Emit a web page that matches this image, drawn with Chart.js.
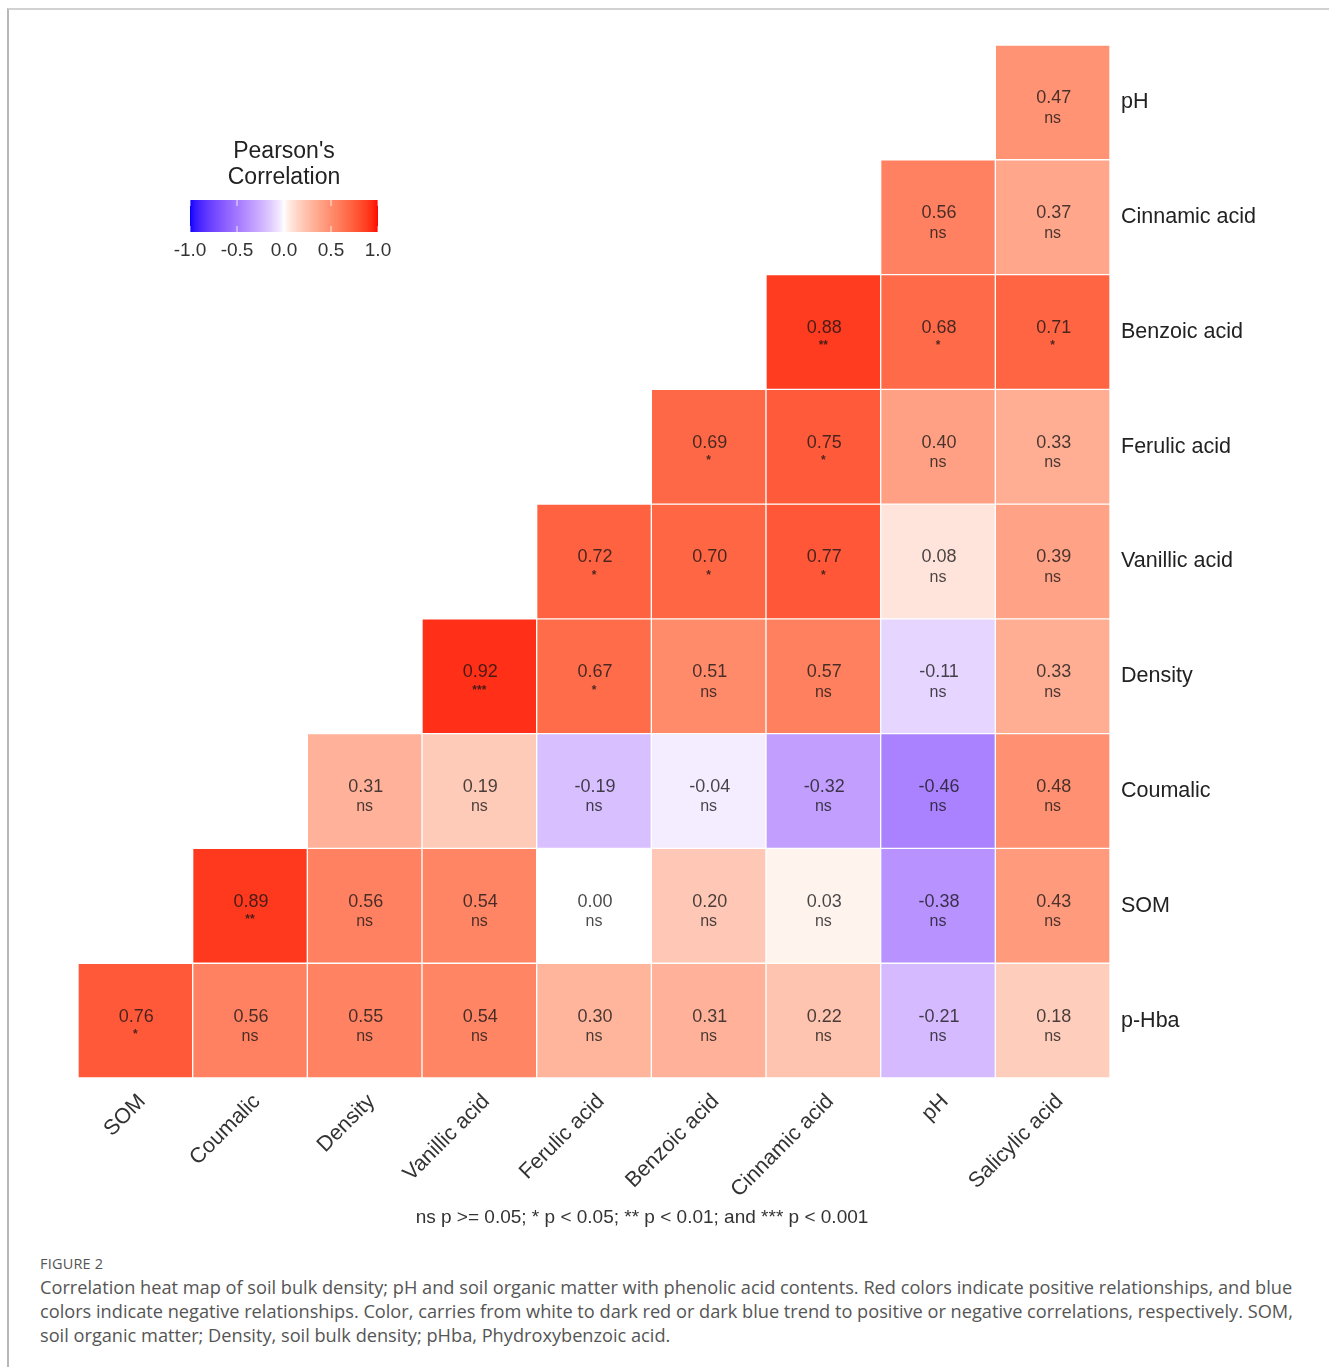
<!DOCTYPE html>
<html>
<head>
<meta charset="utf-8">
<script src="https://cdn.jsdelivr.net/npm/chart.js@4.4.0/dist/chart.umd.min.js"></script>
<style>
  html, body { margin: 0; padding: 0; background: #fff; }
  body { width: 1329px; height: 1367px; position: relative; overflow: hidden; }
  #frame { position: absolute; left: 7px; top: 8px; right: 0; bottom: 0;
           border-top: 2px solid #d2d2d2; border-left: 2px solid #b8b8b8; }
  #heat { position: absolute; left: 0; top: 0; }
  #figlabel { position: absolute; left: 40px; top: 1254px; font-family: "Open Sans", sans-serif;
              font-size: 14.5px; color: #555; letter-spacing: 0.2px; }
  #caption { position: absolute; left: 40px; top: 1275px; font-family: "Open Sans", sans-serif;
             font-size: 18.2px; line-height: 24px; color: #555; white-space: nowrap; }
</style>
</head>
<body>
<div id="frame"></div>
<canvas id="heat" width="1329" height="1240"></canvas>
<div id="figlabel">FIGURE 2</div>
<div id="caption">Correlation heat map of soil bulk density; pH and soil organic matter with phenolic acid contents. Red colors indicate positive relationships, and blue<br>colors indicate negative relationships. Color, carries from white to dark red or dark blue trend to positive or negative correlations, respectively. SOM,<br>soil organic matter; Density, soil bulk density; pHba, Phydroxybenzoic acid.</div>
<script>
// columns (bottom axis) and rows (right axis, top to bottom)
const xLabels = ['SOM', 'Coumalic', 'Density', 'Vanillic acid', 'Ferulic acid',
                 'Benzoic acid', 'Cinnamic acid', 'pH', 'Salicylic acid'];
const yLabels = ['pH', 'Cinnamic acid', 'Benzoic acid', 'Ferulic acid', 'Vanillic acid',
                 'Density', 'Coumalic', 'SOM', 'p-Hba'];

// Pearson r, one row per yLabel (null = upper triangle, not drawn)
const corrValues = [
  [null, null, null, null, null, null, null, null, 0.47],
  [null, null, null, null, null, null, null, 0.56, 0.37],
  [null, null, null, null, null, null, 0.88, 0.68, 0.71],
  [null, null, null, null, null, 0.69, 0.75, 0.40, 0.33],
  [null, null, null, null, 0.72, 0.70, 0.77, 0.08, 0.39],
  [null, null, null, 0.92, 0.67, 0.51, 0.57, -0.11, 0.33],
  [null, null, 0.31, 0.19, -0.19, -0.04, -0.32, -0.46, 0.48],
  [null, 0.89, 0.56, 0.54, 0.00, 0.20, 0.03, -0.38, 0.43],
  [0.76, 0.56, 0.55, 0.54, 0.30, 0.31, 0.22, -0.21, 0.18]
];
const sigLabels = [
  [null, null, null, null, null, null, null, null, 'ns'],
  [null, null, null, null, null, null, null, 'ns', 'ns'],
  [null, null, null, null, null, null, '**', '*', '*'],
  [null, null, null, null, null, '*', '*', 'ns', 'ns'],
  [null, null, null, null, '*', '*', '*', 'ns', 'ns'],
  [null, null, null, '***', '*', 'ns', 'ns', 'ns', 'ns'],
  [null, null, 'ns', 'ns', 'ns', 'ns', 'ns', 'ns', 'ns'],
  [null, '**', 'ns', 'ns', 'ns', 'ns', 'ns', 'ns', 'ns'],
  ['*', 'ns', 'ns', 'ns', 'ns', 'ns', 'ns', 'ns', 'ns']
];
const legendTicks = [-1.0, -0.5, 0.0, 0.5, 1.0];
const footNote = 'ns p >= 0.05; * p < 0.05; ** p < 0.01; and *** p < 0.001';

// blue - white - red, interpolated in CIELAB (slightly stronger than linear)
const LAB_WHITE = [100, 0, 0];
const LAB_RED = [53.24, 80.09, 67.20];
const LAB_BLUE = [32.30, 79.19, -107.86];

function labToRgb(L, a, b) {
  const fy = (L + 16) / 116, fx = fy + a / 500, fz = fy - b / 200;
  const inv = t => t > 6 / 29 ? t * t * t : 3 * (6 / 29) * (6 / 29) * (t - 4 / 29);
  const X = 0.95047 * inv(fx), Y = inv(fy), Z = 1.08883 * inv(fz);
  let r = 3.2406 * X - 1.5372 * Y - 0.4986 * Z;
  let g = -0.9689 * X + 1.8758 * Y + 0.0415 * Z;
  let bb = 0.0557 * X - 0.2040 * Y + 1.0570 * Z;
  const gam = c => {
    c = c <= 0.0031308 ? 12.92 * c : 1.055 * Math.pow(c, 1 / 2.4) - 0.055;
    return Math.round(Math.min(1, Math.max(0, c)) * 255);
  };
  return 'rgb(' + gam(r) + ',' + gam(g) + ',' + gam(bb) + ')';
}

function corrColor(v) {
  const end = v >= 0 ? LAB_RED : LAB_BLUE;
  const t = Math.pow(Math.min(1, Math.abs(v)), 0.78);
  return labToRgb(
    LAB_WHITE[0] + (end[0] - LAB_WHITE[0]) * t,
    LAB_WHITE[1] + (end[1] - LAB_WHITE[1]) * t,
    LAB_WHITE[2] + (end[2] - LAB_WHITE[2]) * t
  );
}

// one floating-bar dataset per row, each bar spans its row band
const datasets = yLabels.map((name, r) => ({
  label: name,
  data: corrValues[r].map(v => v === null ? null : [r - 0.5, r + 0.5]),
  backgroundColor: corrValues[r].map(v => v === null ? 'rgba(0,0,0,0)' : corrColor(v)),
  borderColor: 'rgba(255,255,255,0.5)',
  borderWidth: 1,
  borderSkipped: false,
  grouped: false,
  barPercentage: 1,
  categoryPercentage: 1
}));

// cell texts: r value + significance
const cellText = {
  id: 'cellText',
  afterDatasetsDraw(chart) {
    const ctx = chart.ctx;
    ctx.save();
    ctx.textAlign = 'center';
    ctx.textBaseline = 'middle';
    chart.data.datasets.forEach((ds, r) => {
      const meta = chart.getDatasetMeta(r);
      meta.data.forEach((bar, c) => {
        const v = corrValues[r][c];
        if (v === null) return;
        const cy = (bar.y + bar.base) / 2;
        ctx.fillStyle = 'rgba(20,20,20,0.78)';
        ctx.font = '18px "Liberation Sans", Arial, sans-serif';
        ctx.fillText(v.toFixed(2), bar.x + 1, cy - 4);
        const s = sigLabels[r][c];
        if (s === 'ns') {
          ctx.font = '16px "Liberation Sans", Arial, sans-serif';
          ctx.fillText(s, bar.x, cy + 16);
        } else {
          ctx.font = 'bold 12px "Liberation Sans", Arial, sans-serif';
          ctx.fillText(s, bar.x, cy + 14);
        }
      });
    });
    ctx.restore();
  }
};

// colour bar legend and footnote
const legendBar = {
  id: 'legendBar',
  afterDraw(chart) {
    const ctx = chart.ctx;
    const x0 = 190, x1 = 378, y0 = 200, h = 32;
    ctx.save();
    for (let px = x0; px < x1; px++) {
      const v = -1 + 2 * (px - x0 + 0.5) / (x1 - x0);
      ctx.fillStyle = corrColor(v);
      ctx.fillRect(px, y0, 1, h);
    }
    ctx.strokeStyle = 'rgba(255,255,255,0.8)';
    ctx.lineWidth = 1;
    legendTicks.forEach(t => {
      const px = x0 + (t + 1) / 2 * (x1 - x0);
      ctx.beginPath();
      ctx.moveTo(px, y0); ctx.lineTo(px, y0 + 6);
      ctx.moveTo(px, y0 + h - 6); ctx.lineTo(px, y0 + h);
      ctx.stroke();
    });
    ctx.fillStyle = '#333';
    ctx.textAlign = 'center';
    ctx.textBaseline = 'middle';
    ctx.font = '19px "Liberation Sans", Arial, sans-serif';
    legendTicks.forEach(t => {
      const px = x0 + (t + 1) / 2 * (x1 - x0);
      ctx.fillText(t.toFixed(1), px, 251);
    });
    ctx.fillStyle = '#222';
    ctx.font = '23px "Liberation Sans", Arial, sans-serif';
    ctx.fillText("Pearson's", 284, 152);
    ctx.fillText('Correlation', 284, 178);
    ctx.fillStyle = '#333';
    ctx.font = '19px "Liberation Sans", Arial, sans-serif';
    ctx.fillText(footNote, 642, 1218);
    ctx.restore();
  }
};

new Chart(document.getElementById('heat'), {
  type: 'bar',
  data: { labels: xLabels, datasets: datasets },
  options: {
    responsive: false,
    animation: false,
    devicePixelRatio: 1,
    layout: { padding: { left: 78, top: 45, right: 0, bottom: 0 } },
    plugins: { legend: { display: false }, tooltip: { enabled: false } },
    scales: {
      x: {
        type: 'category',
        grid: { display: false, drawTicks: false },
        border: { display: false },
        ticks: {
          color: '#333',
          font: { family: '"Liberation Sans", Arial, sans-serif', size: 21.5 },
          minRotation: 45,
          maxRotation: 45,
          padding: 11,
          labelOffset: 7,
          autoSkip: false
        },
        afterFit(scale) { scale.height = 162; }
      },
      y: {
        type: 'linear',
        position: 'right',
        reverse: true,
        min: -0.5,
        max: 8.5,
        grid: { display: false, drawTicks: false },
        border: { display: false },
        afterBuildTicks(scale) {
          scale.ticks = yLabels.map((_, i) => ({ value: i }));
        },
        ticks: {
          color: '#222',
          font: { family: '"Liberation Sans", Arial, sans-serif', size: 21.5 },
          padding: 11,
          callback: v => yLabels[v]
        },
        afterFit(scale) { scale.width = 219; }
      }
    }
  },
  plugins: [cellText, legendBar]
});
</script>
</body>
</html>
